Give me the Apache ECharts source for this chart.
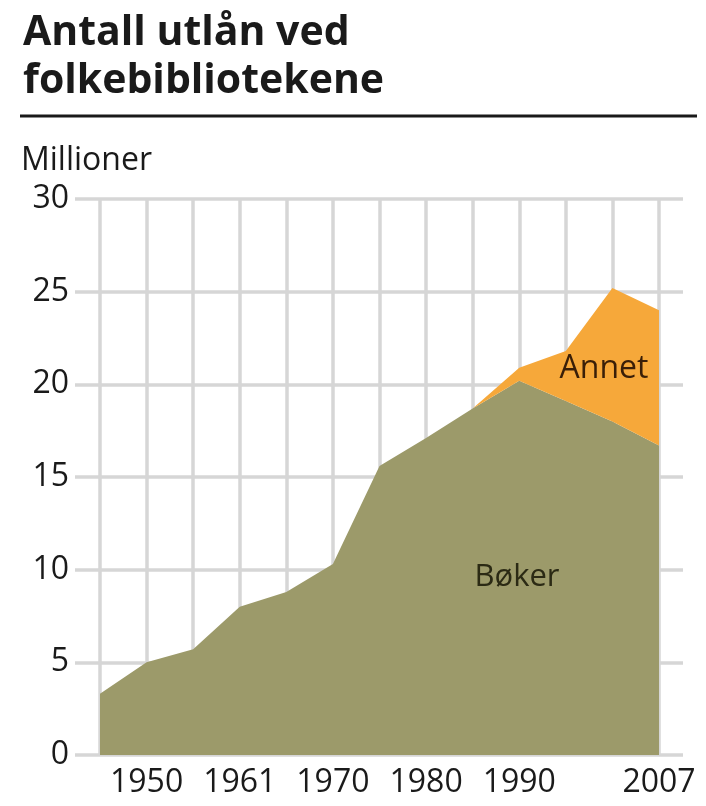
<!DOCTYPE html>
<html>
<head>
<meta charset="utf-8">
<script src="https://cdn.jsdelivr.net/npm/echarts@6/dist/echarts.min.js"></script>
<style>
html,body{margin:0;padding:0;background:#fff;}
#c{width:706px;height:806px;}
</style>
</head>
<body>
<div id="c"></div>
<script>
var years = ['1946','1950','1955','1961','1965','1970','1975','1980','1985','1990','1995','2000','2007'];
var shownYears = ['1950','1961','1970','1980','1990','2007'];
var boker = [3.3, 5.0, 5.7, 8.0, 8.8, 10.3, 15.6, 17.1, 18.7, 20.2, 19.1, 18.0, 16.7];
var annet = [0, 0, 0, 0, 0, 0, 0, 0, 0, 0.7, 2.7, 7.2, 7.3];
var yTicks = [0, 5, 10, 15, 20, 25, 30];

var FONT = '"Open Sans", "Noto Sans", sans-serif';
var chart = echarts.init(document.getElementById('c'));
var gridTop = 199, gridBottom = 806 - 755;

chart.setOption({
  backgroundColor: '#ffffff',
  animation: false,
  title: {
    text: 'Antall utlån ved\nfolkebibliotekene',
    left: 18, top: 4,
    textStyle: { fontFamily: FONT, fontSize: 41, fontWeight: 'bold', color: '#1a1a1a', lineHeight: 48 }
  },
  graphic: [
    { type: 'line', z: 100, shape: { x1: 20, y1: 116, x2: 697, y2: 116 }, style: { stroke: '#1a1a1a', lineWidth: 3 } },
    { type: 'text', z: 100, x: 21, y: 161, style: { text: 'Millioner', font: '32px ' + FONT, fill: '#1a1a1a', textVerticalAlign: 'middle' } },
    { type: 'text', z: 100, x: 604, y: 369, style: { text: 'Annet', font: '32px ' + FONT, fill: '#3a1f08', textAlign: 'center', textVerticalAlign: 'middle' } },
    { type: 'text', z: 100, x: 517, y: 577, style: { text: 'Bøker', font: '31px ' + FONT, fill: '#2b2a14', textAlign: 'center', textVerticalAlign: 'middle' } }
  ],
  grid: [
    { left: 75, right: 23, top: gridTop, bottom: gridBottom },
    { left: 100, right: 47, top: gridTop, bottom: gridBottom }
  ],
  xAxis: [
    { gridIndex: 0, type: 'value', show: false, min: 0, max: 1 },
    {
      gridIndex: 1, type: 'category', data: years, boundaryGap: false,
      axisLine: { show: false }, axisTick: { show: false },
      axisLabel: {
        interval: function (i, v) { return shownYears.indexOf(v) >= 0; },
        fontFamily: FONT, fontSize: 32, color: '#1a1a1a', margin: 12
      },
      splitLine: { show: true, interval: 0, lineStyle: { color: '#d6d6d6', width: 3.5 } }
    }
  ],
  yAxis: [
    {
      gridIndex: 0, type: 'value', min: yTicks[0], max: yTicks[yTicks.length - 1], interval: 5,
      axisLine: { show: false }, axisTick: { show: false },
      axisLabel: { fontFamily: FONT, fontSize: 32, color: '#1a1a1a', margin: 6 },
      splitLine: { show: true, lineStyle: { color: '#d6d6d6', width: 3.5 } }
    },
    {
      gridIndex: 1, type: 'value', min: yTicks[0], max: yTicks[yTicks.length - 1], interval: 5,
      show: false, splitLine: { show: false }
    }
  ],
  series: [
    {
      name: 'Bøker', type: 'line', xAxisIndex: 1, yAxisIndex: 1, stack: 'total',
      data: boker, symbol: 'none', lineStyle: { width: 0 },
      areaStyle: { color: '#9c9a6a', opacity: 1 }, z: 3
    },
    {
      name: 'Annet', type: 'line', xAxisIndex: 1, yAxisIndex: 1, stack: 'total',
      data: annet, symbol: 'none', lineStyle: { width: 0 },
      areaStyle: { color: '#f6a83a', opacity: 1 }, z: 3
    }
  ]
});
</script>
</body>
</html>
